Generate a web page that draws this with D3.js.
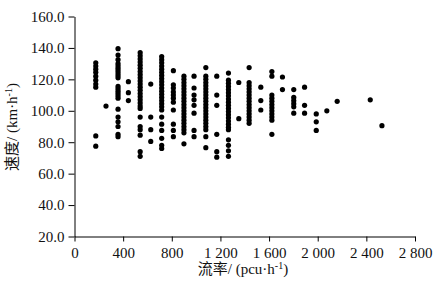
<!DOCTYPE html>
<html lang="zh">
<head>
    <meta charset="UTF-8">
    <title>流率-速度散点图</title>
    <script src="https://d3js.org/d3.v7.min.js"></script>
    <style>
        body { margin: 0; background: #fff; }
        svg text { font-family: "Liberation Serif", "Noto Sans CJK SC", serif; fill: #111; }
        .axis path, .axis line { stroke: #000; stroke-width: 1px; }
        .axis text { font-size: 15px; }
    </style>
</head>
<body>
    <svg width="443" height="290"></svg>

    <script>
        // flow rate of each measured column (pcu/h)
        const flowRates = [175, 259, 358, 443, 540, 627, 717, 813, 900, 983, 1080, 1170,
            1266, 1351, 1436, 1532, 1623, 1710, 1803, 1892, 1988, 2075, 2160, 2432, 2528];

        // speeds observed at each flow rate (km/h)
        const speedGroups = [
            [130.5, 128.5, 126.5, 124.5, 122, 119.5, 117, 115, 84, 77.5],
            [103],
            [139.5, 135.5, 132.5, 130, 128.5, 127, 125.5, 124, 122.5, 121, 115.5, 114, 112.5, 111, 109.5, 108, 101, 96, 93, 90, 85, 83.5],
            [118.5, 111.5, 106.5],
            [137, 135, 133, 131, 129, 127, 125, 123, 121, 119, 117, 115, 113, 111, 109, 107, 105, 103, 101.5, 96, 90, 88, 84.5, 74, 71],
            [117, 96, 88, 80.5],
            [134.5, 132.5, 130.5, 128.5, 126.5, 124.5, 122.5, 120.5, 118.5, 116.5, 114.5, 112.5, 110.5, 108.5, 106.5, 104.5, 102.5, 100.5, 96, 91.5, 87.5, 82.5, 78, 76],
            [125.5, 116.5, 114.5, 112, 110, 108, 105.5, 100.5, 91.5, 87.5, 83.5],
            [122, 120, 118, 116, 114, 112, 110, 108, 106, 104, 102, 100, 98, 96, 94, 92, 90, 88, 86, 79],
            [122, 114.5, 110, 107, 103.5, 98.5, 87.5, 83.5],
            [127.5, 122, 120, 118, 116, 114, 112, 110, 108, 106, 104, 102, 100, 98, 96, 94, 92, 90, 88, 83.5, 76.5],
            [122, 110, 103.5, 85, 74, 70.5],
            [124, 119.5, 117.5, 115.5, 113.5, 111.5, 109.5, 107.5, 105.5, 103.5, 101.5, 99.5, 97.5, 95.5, 93.5, 91.5, 89.5, 88, 81.5, 78, 74.5, 71],
            [118, 95],
            [127.5, 118, 116, 114, 112, 110, 108, 106, 104, 102, 100, 98, 96, 94, 92],
            [115, 106.5, 100.5],
            [125, 122, 110, 108, 106, 104, 102, 100, 98, 96, 94, 85],
            [121.5, 113.5],
            [113.5, 108.5, 106.5, 104.5, 102.5, 98.5],
            [115, 103.5, 98.5],
            [98, 93, 87.5],
            [100],
            [106],
            [107],
            [90.5]
        ];

        const xTicks = [0, 400, 800, 1200, 1600, 2000, 2400, 2800];
        const yTicks = [20, 40, 60, 80, 100, 120, 140, 160];

        const points = [];
        flowRates.forEach((f, i) => {
            speedGroups[i].forEach(s => points.push({ flow: f, speed: s }));
        });

        const svg = d3.select("svg");

        const x = d3.scaleLinear().domain([0, 2800]).range([74.5, 415]);
        const y = d3.scaleLinear().domain([20, 160]).range([236.5, 16.5]);

        const locale = d3.formatLocale({ decimal: ".", thousands: " ", grouping: [3], currency: ["", ""] });

        svg.append("g")
            .attr("class", "axis")
            .attr("transform", `translate(0,${y(20)})`)
            .call(d3.axisBottom(x).tickValues(xTicks).tickFormat(locale.format(","))
                .tickSize(5).tickSizeOuter(0).tickPadding(6));

        svg.append("g")
            .attr("class", "axis")
            .attr("transform", `translate(${x(0)},0)`)
            .call(d3.axisLeft(y).tickValues(yTicks).tickFormat(d3.format(".1f"))
                .tickSize(6).tickSizeOuter(0).tickPadding(4));

        svg.selectAll(".axis text").attr("font-family", null).attr("fill", null);

        svg.append("g")
            .selectAll("circle")
            .data(points)
            .join("circle")
            .attr("cx", d => x(d.flow))
            .attr("cy", d => y(d.speed))
            .attr("r", 2.6)
            .attr("fill", "#000");

        // x axis title
        const xt = svg.append("text")
            .attr("x", 243)
            .attr("y", 274)
            .attr("text-anchor", "middle")
            .attr("font-size", 15);
        xt.append("tspan").text("流率/ (pcu·h");
        xt.append("tspan").attr("dy", -5).attr("font-size", 10).text("-1");
        xt.append("tspan").attr("dy", 5).text(")");

        // y axis title
        const yt = svg.append("text")
            .attr("transform", "translate(17,127) rotate(-90)")
            .attr("text-anchor", "middle")
            .attr("font-size", 15);
        yt.append("tspan").text("速度/ (km·h");
        yt.append("tspan").attr("dy", -5).attr("font-size", 10).text("-1");
        yt.append("tspan").attr("dy", 5).text(")");
    </script>
</body>
</html>
